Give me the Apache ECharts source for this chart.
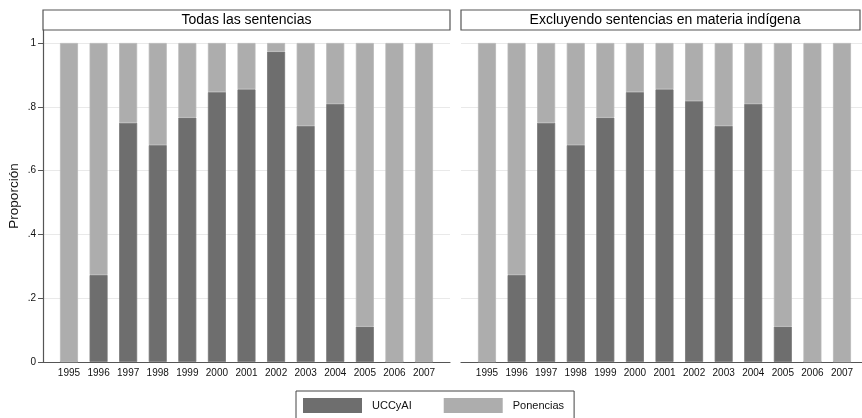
<!DOCTYPE html>
<html><head><meta charset="utf-8">
<script src="https://cdn.jsdelivr.net/npm/echarts@6/dist/echarts.min.js"></script>
<style>html,body{margin:0;padding:0;background:#fff}#c{width:862px;height:418px}</style>
</head><body><div id="c"></div>
<script>
const years = ['1995','1996','1997','1998','1999','2000','2001','2002','2003','2004','2005','2006','2007'];
const panelTitles = ['Todas las sentencias', 'Excluyendo sentencias en materia indígena'];
const uccTodas = [0, 0.273, 0.75, 0.68, 0.766, 0.846, 0.855, 0.973, 0.74, 0.809, 0.111, 0, 0];
const ponTodas = [1, 0.727, 0.25, 0.32, 0.234, 0.154, 0.145, 0.027, 0.26, 0.191, 0.889, 1, 1];
const uccExcl  = [0, 0.273, 0.75, 0.68, 0.766, 0.846, 0.855, 0.818, 0.74, 0.809, 0.111, 0, 0];
const ponExcl  = [1, 0.727, 0.25, 0.32, 0.234, 0.154, 0.145, 0.182, 0.26, 0.191, 0.889, 1, 1];
const yTicks = [0, 0.2, 0.4, 0.6, 0.8, 1];

const FONT = '"Liberation Sans", Arial, Helvetica, sans-serif';
const DARK = '#6e6e6e', LIGHT = '#adadad', AXIS = '#555';
const YMAX = 1.04075;

// frame axes (full panel width)
function frameX(g) {
  return {
    type: 'value', gridIndex: g, min: 0, max: 1,
    axisLine: { show: true, lineStyle: { color: AXIS, width: 1.2 } },
    axisTick: { show: false }, axisLabel: { show: false }, splitLine: { show: false }
  };
}
function frameY(g, first) {
  return {
    type: 'value', gridIndex: g, min: 0, max: YMAX, interval: 0.2,
    axisLine: { show: first, lineStyle: { color: AXIS, width: 1.2 } },
    axisTick: { show: first, length: 5, customValues: yTicks, lineStyle: { color: AXIS } },
    axisLabel: { show: first, customValues: yTicks, fontSize: 10, color: '#111', fontFamily: FONT, margin: 7,
      formatter: v => v === 0 ? '0' : (Math.abs(v - 1) < 1e-9 ? '1' : '.' + Math.round(v * 10)) },
    splitLine: { show: true, lineStyle: { color: '#e9e9e9', width: 1 } },
    name: first ? 'Proporción' : '', nameLocation: 'middle', nameGap: 22, nameRotate: 90,
    nameTextStyle: { fontSize: 13.5, color: '#111', fontFamily: FONT }
  };
}
// bar axes (category band area)
function barX(g) {
  return {
    type: 'category', gridIndex: g, data: years,
    axisLine: { show: false }, axisTick: { show: false }, splitLine: { show: false },
    axisLabel: { fontSize: 10, color: '#111', fontFamily: FONT, margin: 6, interval: 0 }
  };
}
function barY(g) {
  return { type: 'value', gridIndex: g, min: 0, max: YMAX, show: false, splitLine: { show: false } };
}
function bars(g, name, vals, color, border) {
  return {
    type: 'bar', name, xAxisIndex: g, yAxisIndex: g, stack: 'p' + g, barWidth: 18,
    data: vals,
    itemStyle: { color, borderColor: border, borderWidth: 0.8 },
    emphasis: { disabled: true }, animation: false
  };
}
function strip(x, w, text, tx) {
  return {
    type: 'group', children: [
      { type: 'rect', shape: { x, y: 10, width: w, height: 20 }, style: { fill: '#fff', stroke: AXIS, lineWidth: 1.2 } },
      { type: 'text', style: { text, x: tx, y: 20.5, align: 'center', verticalAlign: 'middle', fontSize: 14, fontFamily: FONT, fill: '#000' } }
    ]
  };
}

const chart = echarts.init(document.getElementById('c'), null, { renderer: 'canvas' });
chart.setOption({
  backgroundColor: '#fff',
  animation: false,
  grid: [
    { left: 43, right: 412, top: 30, bottom: 56 },
    { left: 461, right: -6, top: 30, bottom: 56 },
    { left: 54.2, right: 423.2, top: 30, bottom: 56 },
    { left: 472.2, right: 5.2, top: 30, bottom: 56 }
  ],
  xAxis: [frameX(0), frameX(1), barX(2), barX(3)],
  yAxis: [frameY(0, true), frameY(1, false), barY(2), barY(3)],
  series: [
    bars(2, 'UCCyAI', uccTodas, DARK, '#767676'),
    bars(2, 'Ponencias', ponTodas, LIGHT, '#b8b8b8'),
    bars(3, 'UCCyAI', uccExcl, DARK, '#767676'),
    bars(3, 'Ponencias', ponExcl, LIGHT, '#b8b8b8')
  ],
  legend: {
    data: ['UCCyAI', 'Ponencias'], left: 296, top: 391, orient: 'horizontal',
    icon: 'rect', itemWidth: 59, itemHeight: 15, itemGap: 32,
    padding: [7, 10, 7, 7], borderColor: '#444', borderWidth: 1,
    itemStyle: { borderWidth: 0 },
    textStyle: { fontSize: 11, color: '#111', fontFamily: FONT, padding: [0, 0, 0, 5] },
    selectedMode: false
  },
  graphic: [strip(43, 407, panelTitles[0], 246.5), strip(461, 399, panelTitles[1], 665)]
});
</script></body></html>
